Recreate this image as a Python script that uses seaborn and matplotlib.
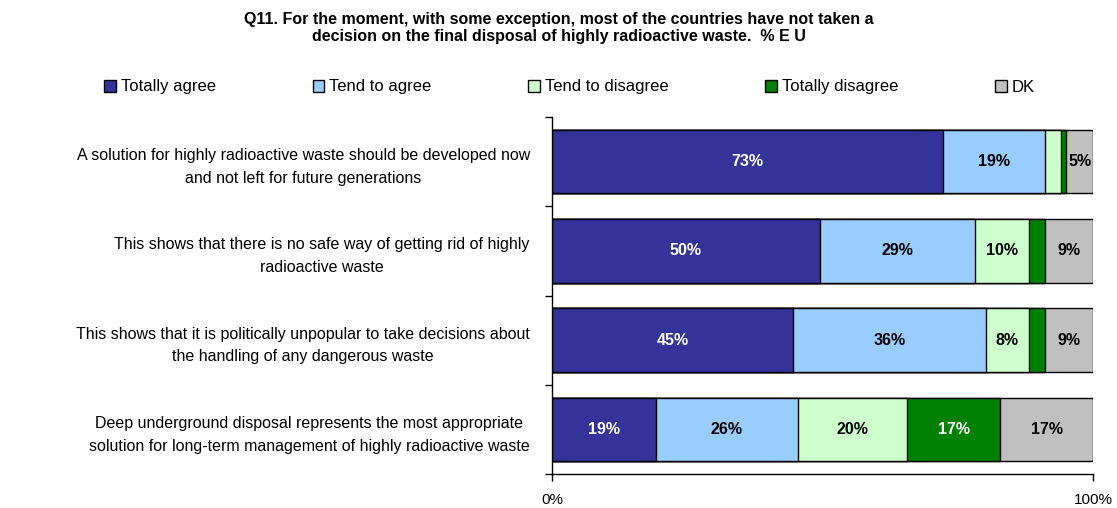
import matplotlib
matplotlib.use("Agg")
import matplotlib.pyplot as plt
import seaborn as sns
import numpy as np
import pandas as pd
from matplotlib.patches import Patch

categories = [
    "A solution for highly radioactive waste should be developed now\nand not left for future generations",
    "This shows that there is no safe way of getting rid of highly\nradioactive waste",
    "This shows that it is politically unpopular to take decisions about\nthe handling of any dangerous waste",
    "Deep underground disposal represents the most appropriate\nsolution for long-term management of highly radioactive waste",
]
series_names = ["Totally agree", "Tend to agree", "Tend to disagree", "Totally disagree", "DK"]
totally_agree = [73, 50, 45, 19]
tend_to_agree = [19, 29, 36, 26]
tend_to_disagree = [3, 10, 8, 20]
totally_disagree = [1, 3, 3, 17]
dk = [5, 9, 9, 17]
colors = ["#333399", "#99CCFF", "#CCFFCC", "#008000", "#C0C0C0"]
text_colors = ["white", "black", "black", "white", "black"]
title = ("Q11. For the moment, with some exception, most of the countries have not taken a\n"
         "decision on the final disposal of highly radioactive waste.  % E U")

sns.set_theme(style="white")
plt.rcParams["font.family"] = ["Liberation Sans", "DejaVu Sans"]
plt.rcParams["text.color"] = "black"
plt.rcParams["xtick.color"] = "black"
plt.rcParams["ytick.color"] = "black"
plt.rcParams["xtick.labelcolor"] = "black"
plt.rcParams["ytick.labelcolor"] = "black"

values = np.array([totally_agree, tend_to_agree, tend_to_disagree, totally_disagree, dk], dtype=float)
values = values / values.sum(axis=0) * 100  # 100% stacked
cum = np.cumsum(values, axis=0)
starts = cum - values

fig = plt.figure(figsize=(11.17, 5.08), dpi=100)
ax = fig.add_axes([552 / 1117, 1 - 474 / 508, (1093 - 552) / 1117, (474 - 117) / 508])

# draw from the last cumulative to the first so earlier segments overlay
for i in range(len(series_names) - 1, -1, -1):
    df = pd.DataFrame({"cat": categories, "val": cum[i]})
    sns.barplot(data=df, x="val", y="cat", orient="h", order=categories,
                color=colors[i], saturation=1, width=0.71,
                edgecolor="black", linewidth=1.0, ax=ax, errorbar=None)

raw = [totally_agree, tend_to_agree, tend_to_disagree, totally_disagree, dk]
for i in range(len(series_names)):
    for j in range(len(categories)):
        v = raw[i][j]
        if v >= 5:
            xc = starts[i, j] + values[i, j] / 2
            ax.text(xc, j, f"{v}%", ha="center", va="center", fontsize=11.5,
                    fontweight="bold", color=text_colors[i])

ax.set_xlim(0, 100)
ax.set_ylim(3.5, -0.5)
ax.set_xlabel("")
ax.set_ylabel("")
ax.set_xticks([0, 100])
ax.set_xticklabels(["0%", "100%"], fontsize=11)
ax.tick_params(axis="x", direction="out", length=5, width=1, pad=9, color="black", bottom=True)
ax.set_yticks(range(len(categories)))
ax.set_yticklabels(categories, fontsize=11.5, multialignment="center", linespacing=1.65)
ax.tick_params(axis="y", which="major", length=0, pad=16)
ax.set_yticks([-0.5, 0.5, 1.5, 2.5, 3.5], minor=True)
ax.tick_params(axis="y", which="minor", direction="out", length=5, width=1, color="black", left=True)
for s in ["top", "right"]:
    ax.spines[s].set_visible(False)
for s in ["left", "bottom"]:
    ax.spines[s].set_color("black")
    ax.spines[s].set_linewidth(1)
ax.grid(False)

fig.text(0.5, 1 - 28 / 508, title, ha="center", va="center", fontsize=11.5,
         fontweight="bold", linespacing=1.2, color="black")

handles = [Patch(facecolor=c, edgecolor="black", linewidth=1) for c in colors]
fig.legend(handles, series_names, loc="center", bbox_to_anchor=(0.51, 1 - 87 / 508),
           ncol=5, frameon=False, fontsize=12, handlelength=0.7, handleheight=0.7,
           handletextpad=0.3, columnspacing=5.8, labelcolor="black")

fig.savefig("out.png", dpi=100)
